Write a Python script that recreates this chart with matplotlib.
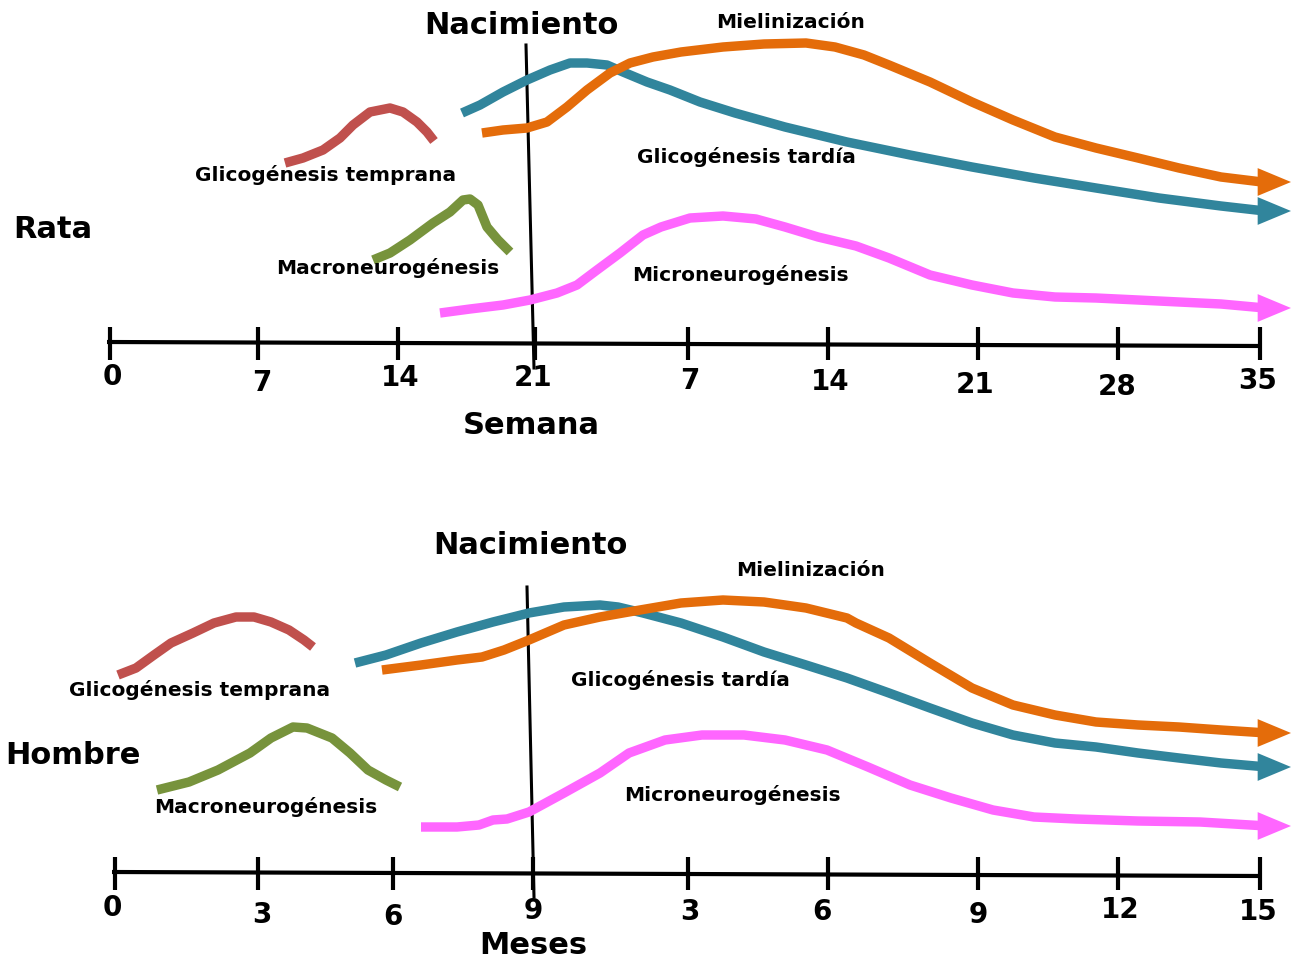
import matplotlib.pyplot as plt

# sketch coordinates (x to the right, y downward, same scale as the picture)
FONT = 'DejaVu Sans'

# ---- Rata (upper panel) ----
rata_ticks_x = [110, 258, 398, 535, 688, 828, 978, 1118, 1260]
rata_ticks_lab = ['0', '7', '14', '21', '7', '14', '21', '28', '35']
rata_lab_x = [112, 262, 400, 533, 690, 830, 975, 1117, 1258]
rata_lab_y = [377, 383, 378, 378, 381, 382, 385, 387, 381]

rata_temprana_x = [285, 303, 323, 340, 353, 370, 390, 403, 417, 427, 434]
rata_temprana_y = [163, 158, 150, 138, 125, 112, 108, 112, 122, 132, 141]
rata_macro_x = [373, 390, 410, 433, 450, 463, 470, 478, 487, 498, 510]
rata_macro_y = [260, 253, 240, 223, 212, 200, 199, 205, 227, 240, 252]
rata_tardia_x = [462, 480, 503, 527, 550, 570, 587, 607, 623, 647, 670, 700, 735, 785, 847,
                 910, 972, 1034, 1096, 1159, 1221, 1265]
rata_tardia_y = [113, 105, 92, 80, 70, 63, 63, 65, 72, 82, 90, 102, 113, 127, 142,
                 155, 167, 178, 188, 198, 206, 211]
rata_mielin_x = [482, 503, 527, 547, 567, 587, 610, 630, 653, 681, 723, 764, 806, 835, 864,
                 889, 930, 972, 1013, 1055, 1096, 1138, 1179, 1221, 1262]
rata_mielin_y = [133, 130, 128, 122, 107, 90, 73, 63, 57, 52, 47, 44, 43, 47, 55,
                 65, 82, 102, 120, 137, 148, 158, 168, 177, 182]
rata_micro_x = [440, 470, 503, 530, 557, 577, 597, 620, 643, 661, 690, 723, 756, 785, 818,
                856, 889, 930, 972, 1013, 1055, 1096, 1138, 1179, 1221, 1265]
rata_micro_y = [313, 309, 305, 300, 293, 285, 270, 253, 235, 227, 218, 216, 219, 227, 237,
                246, 258, 275, 285, 293, 297, 298, 300, 302, 304, 308]

# ---- Hombre (lower panel) ----
hombre_ticks_x = [115, 258, 393, 533, 688, 828, 978, 1118, 1260]
hombre_ticks_lab = ['0', '3', '6', '9', '3', '6', '9', '12', '15']
hombre_lab_x = [112, 262, 393, 533, 690, 822, 978, 1120, 1258]
hombre_lab_y = [908, 915, 917, 911, 912, 912, 915, 910, 912]

hombre_temprana_x = [118, 136, 154, 171, 193, 214, 236, 254, 271, 289, 304, 313]
hombre_temprana_y = [675, 668, 655, 643, 633, 623, 617, 617, 622, 630, 640, 647]
hombre_macro_x = [157, 189, 218, 250, 271, 293, 307, 332, 350, 368, 386, 400]
hombre_macro_y = [790, 782, 770, 753, 738, 727, 728, 738, 753, 770, 780, 787]
hombre_tardia_x = [355, 386, 421, 457, 493, 529, 564, 600, 618, 643, 681, 723, 764, 806, 847,
                   889, 930, 972, 1013, 1055, 1096, 1138, 1179, 1221, 1267]
hombre_tardia_y = [663, 655, 643, 632, 622, 613, 607, 605, 607, 613, 623, 637, 652, 665, 678,
                   693, 708, 723, 735, 743, 747, 753, 758, 763, 767]
hombre_mielin_x = [382, 421, 457, 482, 504, 529, 564, 600, 640, 681, 723, 764, 806, 847, 856,
                   889, 930, 972, 1013, 1055, 1096, 1138, 1179, 1221, 1267]
hombre_mielin_y = [670, 665, 660, 657, 650, 640, 625, 617, 610, 603, 600, 602, 608, 618, 623,
                   638, 663, 688, 705, 715, 722, 725, 727, 730, 733]
hombre_micro_x = [421, 457, 479, 493, 507, 529, 564, 600, 629, 665, 702, 744, 785, 827, 868,
                  910, 951, 993, 1034, 1076, 1138, 1200, 1267]
hombre_micro_y = [827, 827, 825, 820, 819, 812, 793, 773, 753, 740, 735, 735, 740, 750, 767,
                  785, 798, 810, 817, 819, 821, 822, 826]

ARROW_TIP_X = 1291

RED = '#C0504D'
GREEN = '#77933C'
TEAL = '#31859C'
ORANGE = '#E46C0A'
PINK = '#FF66FF'


def curve(ax, xs, ys, color, arrow=False):
    ax.plot(xs, ys, color=color, lw=6.8, solid_capstyle='butt', solid_joinstyle='round')
    if arrow:
        ax.annotate('', xy=(ARROW_TIP_X, ys[-1]), xytext=(xs[-1], ys[-1]),
                    arrowprops=dict(arrowstyle='-|>,head_length=1.2,head_width=0.5',
                                    color=color, lw=0, mutation_scale=20,
                                    shrinkA=0, shrinkB=0))


def timeline(ax, ticks_x, labels, lab_x, lab_y, axis_y):
    ax.plot([ticks_x[0] - 3, ticks_x[-1] + 2], [axis_y - 1, axis_y + 3], color='black', lw=3,
            solid_capstyle='butt')
    for tx in ticks_x:
        ax.plot([tx, tx], [axis_y - 16, axis_y + 17], color='black', lw=3, solid_capstyle='butt')
    for lx, ly, lab in zip(lab_x, lab_y, labels):
        ax.text(lx, ly, lab, ha='center', va='center', fontsize=20,
                fontweight='bold', family=FONT)


def label(ax, x, y, s, size=14.5):
    ax.text(x, y, s, ha='center', va='center', fontsize=size, fontweight='bold', family=FONT)


fig = plt.figure(figsize=(12.91, 9.63), dpi=100)
ax = fig.add_axes([0, 0, 1, 1])
ax.set_xlim(0, 1291)
ax.set_ylim(963, 0)
ax.axis('off')

# upper panel: rata
timeline(ax, rata_ticks_x, rata_ticks_lab, rata_lab_x, rata_lab_y, 343)
ax.plot([526, 534], [45, 368], color='black', lw=2.2)
curve(ax, rata_temprana_x, rata_temprana_y, RED)
curve(ax, rata_macro_x, rata_macro_y, GREEN)
curve(ax, rata_tardia_x, rata_tardia_y, TEAL, arrow=True)
curve(ax, rata_mielin_x, rata_mielin_y, ORANGE, arrow=True)
curve(ax, rata_micro_x, rata_micro_y, PINK, arrow=True)
label(ax, 521, 25, 'Nacimiento', 22)
label(ax, 531, 425, 'Semana', 22)
label(ax, 53, 230, 'Rata', 22)
label(ax, 326, 175, 'Glicogénesis temprana')
label(ax, 388, 268, 'Macroneurogénesis')
label(ax, 746, 157, 'Glicogénesis tardía')
label(ax, 791, 22, 'Mielinización')
label(ax, 740, 275, 'Microneurogénesis')

# lower panel: hombre
timeline(ax, hombre_ticks_x, hombre_ticks_lab, hombre_lab_x, hombre_lab_y, 873)
ax.plot([527, 534], [587, 897], color='black', lw=2.2)
curve(ax, hombre_temprana_x, hombre_temprana_y, RED)
curve(ax, hombre_macro_x, hombre_macro_y, GREEN)
curve(ax, hombre_tardia_x, hombre_tardia_y, TEAL, arrow=True)
curve(ax, hombre_mielin_x, hombre_mielin_y, ORANGE, arrow=True)
curve(ax, hombre_micro_x, hombre_micro_y, PINK, arrow=True)
label(ax, 530, 545, 'Nacimiento', 22)
label(ax, 533, 945, 'Meses', 22)
label(ax, 73, 755, 'Hombre', 22)
label(ax, 200, 690, 'Glicogénesis temprana')
label(ax, 266, 807, 'Macroneurogénesis')
label(ax, 680, 680, 'Glicogénesis tardía')
label(ax, 811, 571, 'Mielinización')
label(ax, 732, 795, 'Microneurogénesis')

fig.savefig('out.png', dpi=100)
